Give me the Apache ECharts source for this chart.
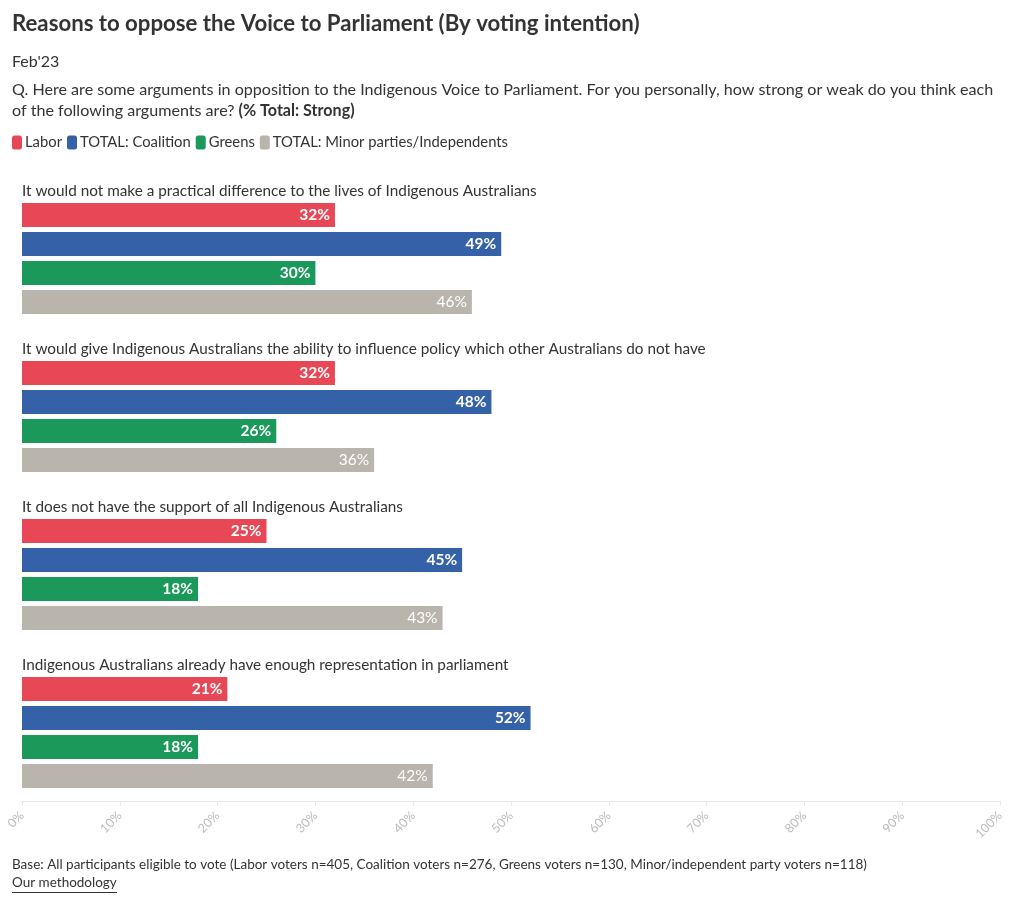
<!DOCTYPE html>
<html>
<head>
<meta charset="utf-8">
<script src="https://cdn.jsdelivr.net/npm/echarts@6/dist/echarts.min.js"></script>
<style>html,body{margin:0;padding:0;background:#fff}#c{width:1020px;height:903px}</style>
</head>
<body>
<div id="c"></div>
<script>
const categories = [
  'It would not make a practical difference to the lives of Indigenous Australians',
  'It would give Indigenous Australians the ability to influence policy which other Australians do not have',
  'It does not have the support of all Indigenous Australians',
  'Indigenous Australians already have enough representation in parliament'
];
const seriesNames = ['Labor', 'TOTAL: Coalition', 'Greens', 'TOTAL: Minor parties/Independents'];
const labor = [32, 32, 25, 21];
const coalition = [49, 48, 45, 52];
const greens = [30, 26, 18, 18];
const minor = [46, 36, 43, 42];
const colors = ['#e84855', '#3461a8', '#1b995a', '#b9b5ac'];
const FONT = 'Lato, "Open Sans", sans-serif';

const chart = echarts.init(document.getElementById('c'), null, {renderer: 'canvas'});
const values = [labor, coalition, greens, minor];
const series = values.map((v, i) => ({
  name: seriesNames[i],
  type: 'bar',
  data: v,
  barWidth: 24,
  barGap: '21%',
  itemStyle: {color: colors[i]},
  label: {
    show: true,
    position: 'insideRight',
    distance: 5,
    formatter: '{c}%',
    color: '#fff',
    fontFamily: FONT,
    fontSize: 15.5,
    fontWeight: i === 3 ? 'normal' : 'bold'
  },
  emphasis: {disabled: true},
  animation: false
}));

const plain = {fontWeight: 'normal', color: '#333', fontFamily: FONT};
chart.setOption({
  animation: false,
  textStyle: {fontFamily: FONT},
  title: [
    {text: 'Reasons to oppose the Voice to Parliament (By voting intention)', left: 12, top: 13, padding: 0,
     textStyle: {fontSize: 22.2, fontWeight: 'bold', color: '#333', fontFamily: FONT}},
    {text: "Feb'23", left: 12, top: 53.5, padding: 0, textStyle: Object.assign({fontSize: 16}, plain)},
    {text: '{a|Q. Here are some arguments in opposition to the Indigenous Voice to Parliament. For you personally, how strong or weak do you think each}\n{a|of the following arguments are? }{b|(% Total: Strong)}',
     left: 12, top: 79, padding: 0,
     textStyle: Object.assign({fontSize: 16.1}, plain, {rich: {
       a: {fontSize: 16.1, color: '#333', fontWeight: 'normal', fontFamily: FONT, lineHeight: 21},
       b: {fontSize: 16.1, color: '#333', fontWeight: 'bold', fontFamily: FONT, lineHeight: 21}
     }})},
    {text: 'Base: All participants eligible to vote (Labor voters n=405, Coalition voters n=276, Greens voters n=130, Minor/independent party voters n=118)',
     left: 12, top: 858, padding: 0, textStyle: Object.assign({fontSize: 13.5}, plain)},
    {text: 'Our methodology', left: 12, top: 876, padding: 0, textStyle: Object.assign({fontSize: 13.5}, plain)}
  ],
  graphic: [
    {type: 'line', shape: {x1: 12, y1: 892.5, x2: 117, y2: 892.5}, style: {stroke: '#333', lineWidth: 1}}
  ],
  legend: {
    left: 12, top: 135, padding: 0,
    icon: 'roundRect', itemWidth: 10, itemHeight: 14, itemGap: 5,
    textStyle: {fontSize: 14.8, color: '#333', fontFamily: FONT, padding: [0, 0, 0, -2]},
    selectedMode: false
  },
  grid: {left: 22, right: 20, top: 179.5, bottom: 91.5, containLabel: false},
  xAxis: {
    type: 'value', min: 0, max: 100, interval: 10,
    offset: -10,
    axisLine: {show: true, lineStyle: {color: '#e8e8e8'}},
    axisTick: {show: true, length: 4, lineStyle: {color: '#e8e8e8'}},
    splitLine: {show: false},
    axisLabel: {rotate: 45, formatter: '{value}%', color: '#bbbbbb', fontSize: 12.5, fontFamily: FONT, margin: 12}
  },
  yAxis: {
    type: 'category', data: categories, inverse: true,
    axisLine: {show: false}, axisTick: {show: false},
    axisLabel: {inside: true, interval: 0, margin: 0, align: 'left', verticalAlign: 'middle',
      formatter: v => '{a|' + v + '}',
      rich: {a: {padding: [0, 0, 135, 0], fontSize: 15.3, color: '#333', fontFamily: FONT}}}
  },
  series: series
});
</script>
</body>
</html>
